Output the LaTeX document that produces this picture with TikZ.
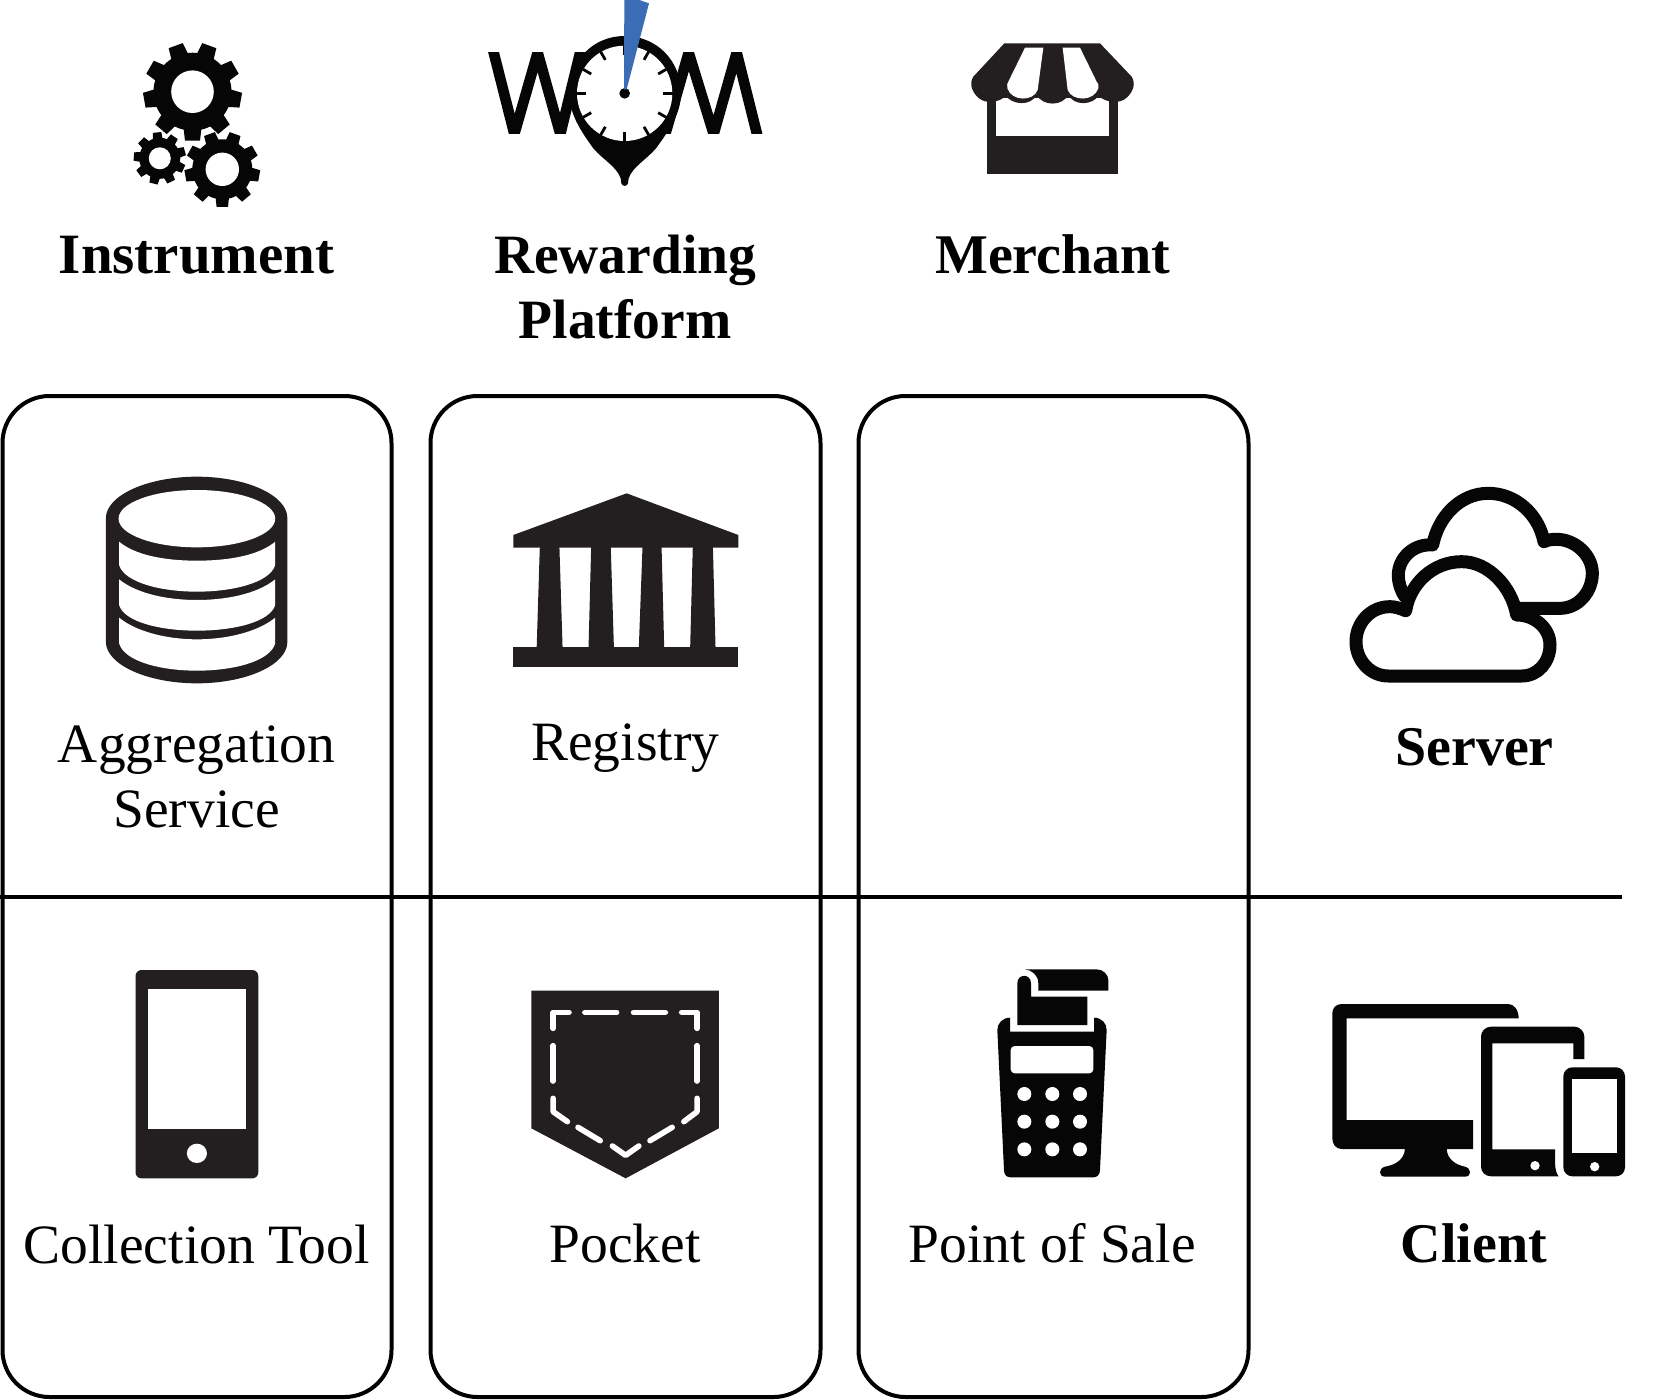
\documentclass[tikz,border=0pt]{standalone}
\usepackage{fontspec}
\setmainfont{Liberation Serif}
\definecolor{iconblack}{HTML}{060606}
\definecolor{warmblack}{HTML}{231F20}
\definecolor{needleblue}{HTML}{3A6DB5}
\tikzset{
  framebox/.style={draw=black,line width=4pt,rounded corners=47pt},
  divider/.style={draw=black,line width=4.4pt},
  lblreg/.style={inner sep=0pt,anchor=base,align=center,font=\fontsize{55.5}{65}\selectfont},
  lblbold/.style={inner sep=0pt,anchor=base,align=center,font=\fontsize{56}{65}\selectfont\bfseries},
  zoomleft/.style={x=0.5293pt,y=-0.33333pt},
  zoomright/.style={x=0.5261pt,y=-0.33333pt},
  zoomtrue/.style={x=0.33333pt,y=-0.33333pt},
  stitch/.style={draw=white,line width=5.6pt,line cap=round,line join=round},
  cloudline/.style={draw=iconblack,line width=13pt,line join=round,line cap=round}
}
% centre x, centre y, outer r, root r, hole r, teeth, phase, half tooth width
\newcommand{\gearicon}[8]{%
  \begin{scope}[shift={(#1,#2)}]
    \fill[iconblack] (0,0) circle (#4);
    \foreach \k in {1,...,#6}{%
      \pgfmathsetmacro{\ang}{#7+360*\k/#6}
      \fill[iconblack,rotate=\ang] (#4-3,-#8*1.2) -- (#3,-#8) -- (#3,#8) -- (#4-3,#8*1.2) -- cycle;
    }
    \fill[white] (0,0) circle (#5);
  \end{scope}}
\begin{document}
\begin{tikzpicture}[x=1pt,y=-1pt]
\useasboundingbox (0,0) rectangle (1655,1400);
\fill[white] (0,0) rectangle (1655,1400);

% frames
\draw[framebox] (2.5,396) rectangle (391.5,1397);
\draw[framebox] (430.5,396) rectangle (820.5,1397);
\draw[framebox] (858.5,396) rectangle (1248.5,1397);
% divider
\coordinate (divL) at (0,897);
\coordinate (divR) at (1622,897);
\draw[divider] (divL) -- (divR);

% gears
\gearicon{192.5}{91.7}{49}{39}{21.3}{9}{270}{7.5}
\gearicon{159.8}{158.3}{26}{20.5}{11}{9}{96}{4.2}
\gearicon{222.3}{169.3}{37.5}{30}{16.7}{9}{270}{5.7}

% WOM logo
\begin{scope}[shift={(480,0)},zoomtrue]
  \begin{scope}
    \clip (0,158) rectangle (900,402);
    \draw[iconblack,line width=10.6pt,line join=miter,miter limit=20]
      (30,114) -- (103,402) -- (173,158) -- (241,402) -- (311,114);
    \draw[iconblack,line width=10.6pt,line join=miter,miter limit=20]
      (556,402) -- (626,158) -- (701,402) -- (770,158) -- (842,446);
  \end{scope}
  \fill[iconblack] (434,108) .. controls (340,108) and (268,180) .. (268,280)
    .. controls (268,340) and (300,390) .. (340,445)
    .. controls (370,480) and (410,500) .. (422,535) -- (424,550)
    .. controls (426,560) and (442,560) .. (444,550) -- (446,535)
    .. controls (458,500) and (498,480) .. (528,445)
    .. controls (568,390) and (603,340) .. (603,280)
    .. controls (603,180) and (528,108) .. (434,108) -- cycle;
  \fill[white] (434,280) circle (143);
  \begin{scope}[shift={(434,280)}]
    \foreach \tickang in {0,30,...,330}{
      \draw[iconblack,line width=2.8pt] (\tickang:144) -- (\tickang:116);
    }
    \fill[iconblack] (0,0) circle (16);
    \fill[needleblue] (-2,-12) -- (-1,-280) -- (44,-280) -- (73,-270) -- (6,-12) -- cycle;
  \end{scope}
\end{scope}

% store
\begin{scope}[shift={(970,35)},zoomtrue]
  \fill[warmblack] (52,180) rectangle (443,418);
  \fill[white] (78,190) rectangle (416,303);
  \fill[warmblack] (103,25) -- (390,25) -- (485,125)
    .. controls (498,145) and (490,170) .. (470,188)
    .. controls (450,207) and (410,205) .. (385,182)
    .. controls (370,210) and (310,215) .. (295,178)
    .. controls (280,215) and (215,215) .. (200,178)
    .. controls (185,215) and (125,210) .. (108,182)
    .. controls (85,205) and (45,207) .. (25,188)
    .. controls (5,170) and (-3,145) .. (10,125) -- cycle;
  \fill[white] (165,38) -- (220,38) -- (203,165)
    .. controls (190,200) and (125,200) .. (112,160)
    .. controls (110,150) and (112,145) .. (115,140) -- cycle;
  \fill[white] (278,38) -- (330,38) -- (380,140)
    .. controls (385,145) and (387,150) .. (385,160)
    .. controls (372,200) and (307,200) .. (293,165) -- cycle;
\end{scope}

% database
\begin{scope}[shift={(0,380)},zoomleft]
  \fill[warmblack] (200,415) .. controls (200,345) and (280,290) .. (372,290)
    .. controls (465,290) and (543,345) .. (543,415) -- (543,785)
    .. controls (543,855) and (465,910) .. (372,910)
    .. controls (280,910) and (200,855) .. (200,785) -- cycle;
  \fill[white] (372,416) ellipse (148 and 86);
  \fill[white] (225,485) .. controls (255,525) and (310,542) .. (372,542)
    .. controls (435,542) and (490,525) .. (520,485) -- (520,555)
    .. controls (510,608) and (440,635) .. (372,635)
    .. controls (305,635) and (235,608) .. (225,555) -- cycle;
  \fill[white] (225,598) .. controls (260,643) and (320,660) .. (372,660)
    .. controls (425,660) and (485,643) .. (520,598) -- (520,675)
    .. controls (510,727) and (440,752) .. (372,752)
    .. controls (305,752) and (235,727) .. (225,675) -- cycle;
  \fill[white] (225,713) .. controls (260,758) and (320,778) .. (372,778)
    .. controls (425,778) and (485,758) .. (520,713) -- (520,790)
    .. controls (510,845) and (440,872) .. (372,872)
    .. controls (305,872) and (235,845) .. (225,790) -- cycle;
\end{scope}

% bank
\begin{scope}[shift={(1,380)},zoomleft]
  \fill[warmblack] (1182,340) -- (1393,465) -- (1393,503) -- (968,503) -- (968,465) -- cycle;
  \fill[warmblack] (968,802) rectangle (1393,861);
  \fill[warmblack] (1018,500) -- (1055,500) -- (1061,805) -- (1012,805) -- cycle;
  \fill[warmblack] (1115,500) -- (1152,500) -- (1158,805) -- (1110,805) -- cycle;
  \fill[warmblack] (1212,500) -- (1248,500) -- (1253,805) -- (1205,805) -- cycle;
  \fill[warmblack] (1307,500) -- (1345,500) -- (1350,805) -- (1302,805) -- cycle;
\end{scope}

% clouds
\begin{scope}[shift={(1340,480)},zoomtrue]
  \draw[cloudline] (540,385) -- (660,385) .. controls (715,385) and (757,335) .. (757,280)
    .. controls (757,225) and (705,178) .. (650,178) .. controls (635,178) and (622,180) .. (612,185)
    .. controls (595,100) and (525,40) .. (445,40) .. controls (360,40) and (295,110) .. (278,195)
    .. controls (220,190) and (175,235) .. (175,285) .. controls (175,310) and (182,330) .. (195,350);
  \draw[cloudline,fill=white] (145,588) -- (545,588) .. controls (595,588) and (630,545) .. (630,495)
    .. controls (630,445) and (585,405) .. (530,405) .. controls (515,320) and (445,245) .. (365,245)
    .. controls (280,245) and (210,310) .. (197,392) .. controls (180,385) and (165,380) .. (150,380)
    .. controls (90,380) and (48,430) .. (48,485) .. controls (48,540) and (90,588) .. (145,588) -- cycle;
\end{scope}

% phone
\begin{scope}[shift={(0,900)},zoomleft]
  \fill[warmblack,rounded corners=6pt] (256,210) rectangle (488,835);
  \fill[white] (280,268) rectangle (465,686);
  \fill[white] (372,760) ellipse (19 and 29);
\end{scope}

% pocket
\begin{scope}[shift={(0,900)},zoomleft]
  \fill[warmblack] (1004,272) -- (1358,272) -- (1358,685) -- (1182,835) -- (1004,685) -- cycle;
  \draw[stitch] (1045,385) -- (1045,337) -- (1075,337);
  \draw[stitch] (1105,337) -- (1165,337);
  \draw[stitch] (1197,337) -- (1257,337);
  \draw[stitch] (1288,337) -- (1317,337) -- (1317,385);
  \draw[stitch] (1045,437) -- (1045,543);
  \draw[stitch] (1317,437) -- (1317,543);
  \draw[stitch] (1045,595) -- (1045,635) -- (1072,665);
  \draw[stitch] (1092,682) -- (1134,722);
  \draw[stitch] (1157,738) -- (1182,766) -- (1207,738);
  \draw[stitch] (1228,722) -- (1270,682);
  \draw[stitch] (1292,665) -- (1317,635) -- (1317,595);
\end{scope}

% point of sale
\begin{scope}[shift={(990,960)},zoomtrue]
  \fill[iconblack] (60,173) -- (60,215) -- (312,215) -- (312,173)
    .. controls (335,173) and (350,190) .. (350,210) -- (330,630)
    .. controls (330,645) and (320,652) .. (310,652) -- (62,652)
    .. controls (50,652) and (42,645) .. (42,630) -- (22,210)
    .. controls (22,190) and (38,173) .. (60,173) -- cycle;
  \fill[white,rounded corners=4pt] (62,340) -- (62,258) -- (310,258) -- (310,340) -- cycle;
  \foreach \bx in {103,187,270}{\foreach \by in {402,485,568}{
    \fill[white] (\bx,\by) circle (21);
  }}
  \fill[iconblack] (82,195) -- (82,70) .. controls (82,40) and (123,40) .. (123,70)
    -- (123,110) -- (292,110) -- (292,195) -- cycle;
  \fill[iconblack] (105,28) -- (320,28) .. controls (340,28) and (355,45) .. (355,60)
    -- (355,92) -- (145,92) -- (145,70) .. controls (145,45) and (125,30) .. (105,28) -- cycle;
\end{scope}

% client devices
\begin{scope}[shift={(1330,1000)},zoomtrue]
  \fill[iconblack] (35,12) -- (535,12) .. controls (552,12) and (566,30) .. (566,55)
    -- (50,55) -- (50,360) -- (429,360) -- (429,447) -- (350,447)
    .. controls (352,480) and (380,495) .. (405,500)
    .. controls (425,505) and (425,530) .. (405,530) -- (165,530)
    .. controls (145,530) and (145,505) .. (165,500)
    .. controls (195,495) and (222,480) .. (225,447) -- (35,447)
    .. controls (17,447) and (7,432) .. (7,415) -- (7,40)
    .. controls (7,25) and (17,12) .. (35,12) -- cycle;
  \fill[iconblack] (483,80) -- (733,80) .. controls (750,80) and (763,95) .. (763,110)
    -- (763,177) -- (730,177) -- (730,130) -- (487,130) -- (487,448) -- (675,448)
    -- (675,490) .. controls (676,510) and (680,522) .. (686,529) -- (483,529)
    .. controls (465,529) and (453,515) .. (453,500) -- (453,110)
    .. controls (453,95) and (465,80) .. (483,80) -- cycle;
  \fill[white] (615,497) circle (14);
  \fill[iconblack,rounded corners=9pt] (700,202) rectangle (885,529);
  \fill[white] (727,238) rectangle (860,460);
  \fill[white] (794,500) circle (14);
\end{scope}

% labels
\node[lblbold,font=\fontsize{57}{65}\selectfont\bfseries] (instrument) at (196.7,273) {Instrument};
\node[lblbold,font=\fontsize{55.5}{65}\selectfont\bfseries] (rewarding) at (625.2,338) {Rewarding\\Platform};
\node[lblbold] (merchant) at (1052.8,273) {Merchant};
\node[lblreg] (aggregation) at (196.7,827) {Aggregation\\Service};
\node[lblreg] (registry) at (625.2,760) {Registry};
\node[lblbold] (server) at (1474.5,765) {Server};
\node[lblreg] (collection) at (196.7,1263) {Collection Tool};
\node[lblreg] (pocket) at (625.2,1262) {Pocket};
\node[lblreg] (pos) at (1052.3,1262) {Point of Sale};
\node[lblbold] (client) at (1474,1262) {Client};
\end{tikzpicture}
\end{document}
